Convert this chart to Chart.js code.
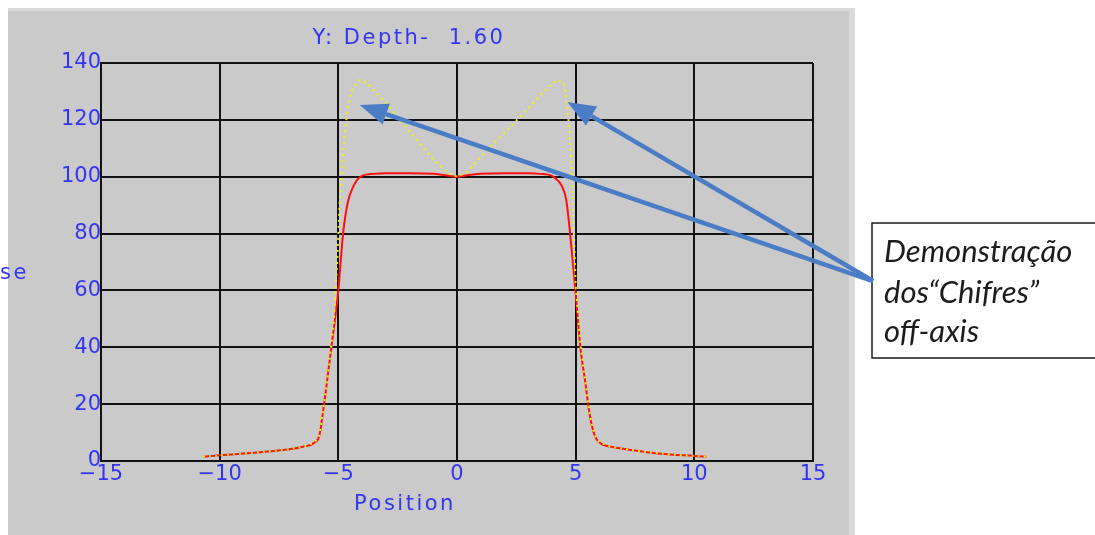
<!DOCTYPE html>
<html>
<head>
<meta charset="utf-8">
<script src="https://cdn.jsdelivr.net/npm/chart.js@4/dist/chart.umd.min.js"></script>
<style>
html,body{margin:0;padding:0;background:#fff;}
canvas{display:block;}
</style>
</head>
<body>
<canvas id="c" width="1095" height="535"></canvas>
<script>
// ---- data ----
const redX = [-10.7,-10,-9,-8,-7,-6.5,-6,-5.8,-5.6,-5.4,-5.2,-5.0,-4.8,-4.6,-4.4,-4.2,-4.0,-3.5,-3,-2,-1,-0.5,0,0.5,1,2,3,3.5,4.0,4.2,4.4,4.6,4.8,5.0,5.2,5.4,5.6,5.8,6.0,6.5,7,8,9,10,10.5];
const redDose = [1.5,2,2.6,3.3,4.2,5,6.5,9,20,33,46,60,80,91,96,99,100.3,101,101.2,101.2,101,100.5,100,100.6,101,101.2,101.2,101,100.3,99,97,92,77,59,40,28,16,9,6.5,5,4.3,3.1,2.3,1.8,1.5];
const yellowX = [-10.7,-10,-9,-8,-7,-6.5,-6,-5.8,-5.6,-5.4,-5.2,-5.05,-4.95,-4.85,-4.75,-4.6,-4.4,-4.1,-3.8,-3.4,-3,-2,-1,-0.4,0,0.4,1,2,3,3.6,4.2,4.5,4.62,4.77,4.84,4.91,5.0,5.2,5.4,5.6,5.8,6.0,6.5,7,8,9,10,10.5];
const yellowDose = [1.5,2,2.6,3.3,4.2,5,6.5,9,20,33,48,70,90,102,113,125,131,134,133,129.5,126,116,106,101.5,100,101.5,107,115.5,124,129.5,134,133,127,113,101.5,83,62,41,28,16,9,6.5,5,4.3,3.1,2.3,1.8,1.5];
const xTickValues = [-15,-10,-5,0,5,10,15];
const xTickLabels = ['\u221215','\u221210','\u22125','0','5','10','15'];
const yTickValues = [0,20,40,60,80,100,120,140];
const yTickLabels = ['0','20','40','60','80','100','120','140'];
const titleText = 'Y: Depth-  1.60';
const xTitle = 'Position';
const yTitle = 'se';
const noteLines = ['Demonstração', 'dos\u201cChifres\u201d', 'off-axis'];
// arrows: start at the note box, tips on the two horns (data coordinates)
const arrowStart = {x: 17.53, y: 63.3};
const arrowTips = [{x: -4.10, y: 125.2}, {x: 4.65, y: 126.3}];

const BLUE = '#3434f4';
const FONT = '"DejaVu Sans", sans-serif';

const decor = {
  id: 'decor',
  beforeInit(chart) { chart.ctx.letterSpacing = '2.5px'; },
  beforeDraw(chart) {
    const ctx = chart.ctx;
    ctx.save();
    ctx.fillStyle = '#ffffff';
    ctx.fillRect(0, 0, chart.width, chart.height);
    ctx.fillStyle = '#cacaca';
    ctx.fillRect(8, 8, 847, chart.height - 8);
    ctx.fillStyle = '#dadada';
    ctx.fillRect(8, 8, 847, 3);
    ctx.fillRect(849, 8, 6, chart.height - 8);
    ctx.restore();
  },
  afterDraw(chart) {
    const ctx = chart.ctx;
    const xs = chart.scales.x, ys = chart.scales.y;
    ctx.save();
    // title and axis titles
    ctx.letterSpacing = '2.5px';
    ctx.fillStyle = BLUE;
    ctx.font = '21px ' + FONT;
    ctx.textAlign = 'center';
    ctx.textBaseline = 'middle';
    ctx.fillText(titleText, 409, 39);
    ctx.fillText(xTitle, 405, 505);
    ctx.textAlign = 'left';
    ctx.fillText(yTitle, 0, 274);

    // note box
    ctx.letterSpacing = '0px';
    ctx.strokeStyle = '#1a1a1a';
    ctx.lineWidth = 1.5;
    ctx.strokeRect(872, 223, 240, 135);
    ctx.fillStyle = '#1c1c1c';
    ctx.font = 'italic 31px Lato, "Open Sans", sans-serif';
    ctx.textAlign = 'left';
    ctx.textBaseline = 'alphabetic';
    const bases = [262, 303, 342];
    noteLines.forEach((t, i) => ctx.fillText(t, 884, bases[i]));

    // arrows
    const sx = xs.getPixelForValue(arrowStart.x), sy = ys.getPixelForValue(arrowStart.y);
    ctx.strokeStyle = '#4b7cc6';
    ctx.fillStyle = '#4b7cc6';
    ctx.lineWidth = 4.5;
    ctx.lineCap = 'butt';
    arrowTips.forEach(tp => {
      const tx = xs.getPixelForValue(tp.x), ty = ys.getPixelForValue(tp.y);
      const ang = Math.atan2(ty - sy, tx - sx);
      const headLen = 28, headW = 11;
      const bx = tx - headLen * Math.cos(ang), by = ty - headLen * Math.sin(ang);
      ctx.beginPath();
      ctx.moveTo(sx, sy);
      ctx.lineTo(bx, by);
      ctx.stroke();
      ctx.beginPath();
      ctx.moveTo(tx, ty);
      ctx.lineTo(bx + headW * Math.sin(ang), by - headW * Math.cos(ang));
      ctx.lineTo(bx - headW * Math.sin(ang), by + headW * Math.cos(ang));
      ctx.closePath();
      ctx.fill();
    });
    ctx.restore();
  }
};

new Chart(document.getElementById('c'), {
  type: 'scatter',
  data: {
    datasets: [
      {
        label: 'Measured',
        data: redX.map((x, i) => ({x: x, y: redDose[i]})),
        showLine: true,
        borderColor: '#ff1010',
        borderWidth: 2,
        pointRadius: 0,
        cubicInterpolationMode: 'monotone',
        order: 2
      },
      {
        label: 'Horns',
        data: yellowX.map((x, i) => ({x: x, y: yellowDose[i]})),
        showLine: true,
        borderColor: '#f2f200',
        borderWidth: 2,
        borderDash: [2, 4],
        pointRadius: 0,
        tension: 0,
        order: 1
      }
    ]
  },
  options: {
    responsive: false,
    animation: false,
    devicePixelRatio: 1,
    layout: {padding: {left: 0, right: 282, top: 63, bottom: 0}},
    plugins: {legend: {display: false}, tooltip: {enabled: false}, title: {display: false}},
    scales: {
      x: {
        type: 'linear', min: -15, max: 15,
        afterBuildTicks: s => { s.ticks = xTickValues.map(v => ({value: v})); },
        afterFit: s => { s.height = 74; },
        ticks: {
          color: BLUE, font: {family: FONT, size: 21}, padding: 1, maxRotation: 0, autoSkip: false,
          callback: (v) => xTickLabels[xTickValues.indexOf(v)]
        },
        grid: {color: '#121212', lineWidth: 2, drawTicks: false},
        border: {color: '#121212', width: 2}
      },
      y: {
        type: 'linear', min: 0, max: 140,
        afterBuildTicks: s => { s.ticks = yTickValues.map(v => ({value: v})); },
        afterFit: s => { s.width = 101; },
        ticks: {
          color: BLUE, font: {family: FONT, size: 21}, padding: 0,
          callback: (v) => yTickLabels[yTickValues.indexOf(v)]
        },
        grid: {color: '#121212', lineWidth: 2, drawTicks: false},
        border: {color: '#121212', width: 2}
      }
    }
  },
  plugins: [decor]
});
</script>
</body>
</html>
